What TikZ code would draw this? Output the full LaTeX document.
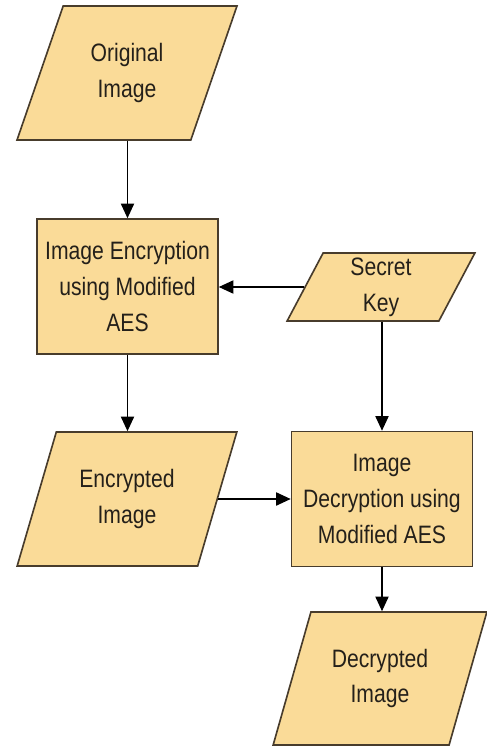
\documentclass[tikz,border=0pt]{standalone}
\usepackage{fontspec}
\setmainfont{Liberation Sans}[FakeStretch=0.84]
\usetikzlibrary{shapes.geometric,arrows.meta}
\definecolor{boxfill}{RGB}{250,219,152}
\definecolor{boxline}{RGB}{72,60,44}
\definecolor{txt}{RGB}{36,32,26}
\begin{document}
\begin{tikzpicture}[x=0.03cm,y=-0.03cm,
    every node/.style={font=\fontsize{21.5}{30.5}\selectfont,text=txt,align=center},
    io/.style={trapezium,trapezium stretches=true,draw=boxline,fill=boxfill,line width=1.4pt,inner sep=0pt},
    proc/.style={rectangle,draw=boxline,fill=boxfill,line width=1.4pt,minimum width=5.43cm,minimum height=4.05cm,inner sep=0pt},
    flow/.style={line width=1pt,-{Triangle[length=0.44cm,width=0.4cm]}}]
    \useasboundingbox (0,0) rectangle (487,747);

    \node[io,trapezium left angle=66,trapezium right angle=114,minimum width=6.6cm,minimum height=4.02cm] (orig) at (127,73) {Original\\Image};
    \node[proc] (encbox) at (127.5,286.5) {Image Encryption\\using Modified\\AES};
    \node[io,trapezium left angle=72,trapezium right angle=108,minimum width=5.64cm,minimum height=2.04cm] (key) at (381,287) {Secret\\Key};
    \node[io,trapezium left angle=66,trapezium right angle=114,minimum width=6.6cm,minimum height=4.02cm] (encimg) at (127,499) {Encrypted\\Image};
    \node[proc] (dec) at (382,499) {Image\\Decryption using\\Modified AES};
    \node[io,trapezium left angle=66,trapezium right angle=114,minimum width=6.42cm,minimum height=3.99cm] (decimg) at (380,678.5) {Decrypted\\Image};

    \draw[flow] (orig.south -| encbox.north) -- (encbox.north);
    \draw[flow] (key.left side) -- (key.left side -| encbox.east);
    \draw[flow] (encbox.south) -- (encbox.south |- encimg.north);
    \draw[flow] (key.south -| dec.north) -- (dec.north);
    \draw[flow] (encimg.right side) -- (encimg.right side -| dec.west);
    \draw[flow] (dec.south) -- (dec.south |- decimg.north);
\end{tikzpicture}
\end{document}
